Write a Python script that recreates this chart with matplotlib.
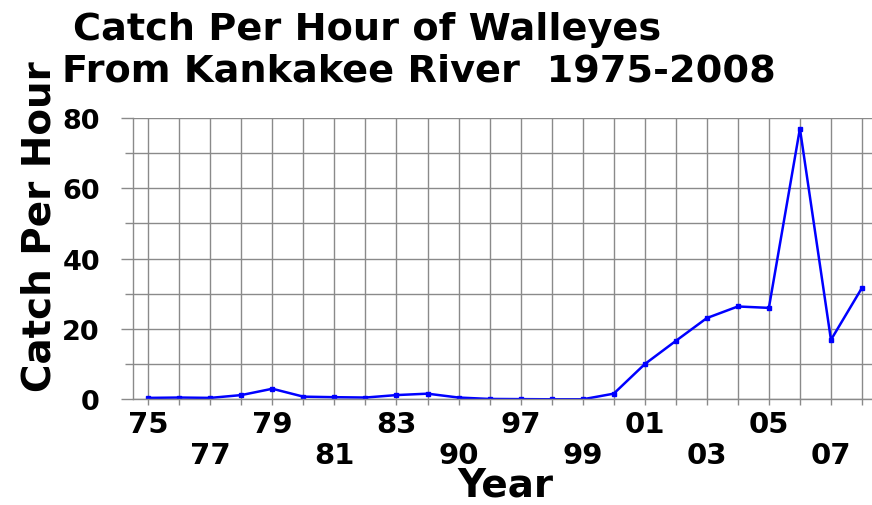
import matplotlib
matplotlib.use('Agg')
import matplotlib.pyplot as plt
from matplotlib.ticker import MultipleLocator

years = ['75', '76', '77', '78', '79', '80', '81', '82', '83', '84', '90', '96',
         '97', '98', '99', '00', '01', '02', '03', '04', '05', '06', '07', '08']
catch = [0.4, 0.5, 0.4, 1.2, 3.0, 0.75, 0.6, 0.5, 1.2, 1.6, 0.5, 0.1,
         0.05, 0.0, 0.0, 1.6, 10.0, 16.6, 23.1, 26.4, 26.0, 77.0, 16.9, 31.7]

title_1 = 'Catch Per Hour of Walleyes'
title_2 = 'From Kankakee River  1975-2008'

plt.rcParams['font.family'] = 'DejaVu Sans'
plt.rcParams['font.weight'] = 'bold'
plt.rcParams['axes.labelweight'] = 'bold'

W, H = 872, 506
grey = '#8a8a8a'

fig = plt.figure(figsize=(W / 100, H / 100), dpi=100)
# plot area runs off the right edge like the original screenshot
ax = fig.add_axes([132.7 / W, 105.7 / H, 744.8 / W, 281.3 / H])

x = list(range(len(years)))
ax.plot(x, catch, color='#0000ff', lw=1.8, marker='s', ms=2.5)

ax.set_xlim(-0.5, len(years) - 0.5)
ax.set_ylim(0, 80)
ax.yaxis.set_major_locator(MultipleLocator(20))
ax.yaxis.set_minor_locator(MultipleLocator(10))

# every other year labelled, alternating between two rows
xlabels = []
for i, yr in enumerate(years):
    if i % 4 == 0:
        xlabels.append(yr)
    elif i % 4 == 2:
        xlabels.append('\n' + yr)
    else:
        xlabels.append('')
ax.set_xticks(x)
ax.set_xticklabels(xlabels, linespacing=1.15)

ax.grid(which='both', color=grey, lw=1)
ax.set_axisbelow(True)
for s in ['top', 'right']:
    ax.spines[s].set_visible(False)
for s in ['left', 'bottom']:
    ax.spines[s].set_color(grey)
    ax.spines[s].set_linewidth(1)

ax.tick_params(axis='y', which='major', length=8.6, width=1, color=grey,
               pad=15, labelsize=19.5)
ax.tick_params(axis='y', which='minor', length=5.8, width=1, color=grey)
ax.tick_params(axis='x', length=4.3, width=1, color=grey, pad=3.4,
               labelsize=21)

ax.set_xlabel('Year', fontsize=28, fontweight='bold', va='baseline')
ax.xaxis.set_label_coords(0.5, -0.341)
ax.set_ylabel('Catch Per Hour', fontsize=28, fontweight='bold',
              va='baseline', ha='center', rotation=90, rotation_mode='anchor')
ax.yaxis.set_label_coords(-0.111, 0.618)

fig.text(73 / W, 1 - 40 / H, title_1, fontsize=27.5, ha='left', va='baseline')
fig.text(62 / W, 1 - 82 / H, title_2, fontsize=27.5, ha='left', va='baseline')

fig.savefig('out.png', dpi=100)
